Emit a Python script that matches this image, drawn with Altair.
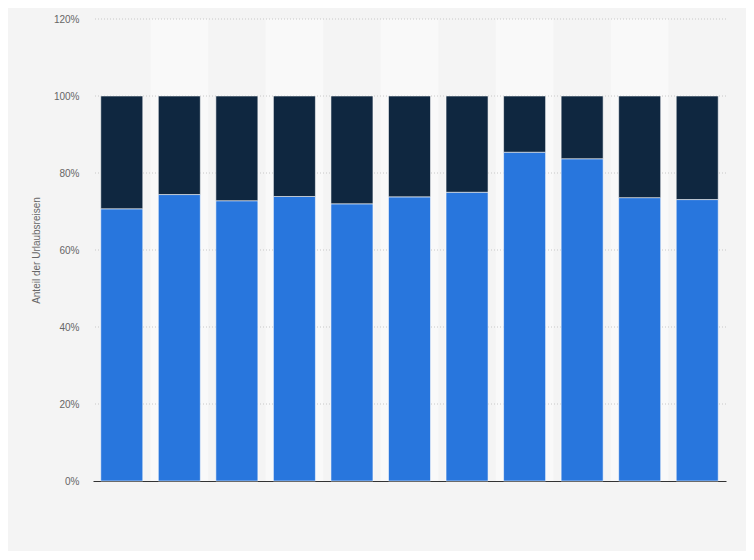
import altair as alt
import pandas as pd

categories = ["2009", "2010", "2011", "2012", "2013", "2014", "2015", "2016", "2017", "2018", "2019"]
share_a = [70.7, 74.4, 72.8, 73.9, 72.0, 73.8, 75.0, 85.4, 83.7, 73.6, 73.1]
series_names = ["Anteil A", "Anteil B"]
y_ticks = [0, 20, 40, 60, 80, 100, 120]

rows = []
for i, (c, a) in enumerate(zip(categories, share_a)):
    rows.append({"cat": c, "series": series_names[0], "value": a, "order": 0})
    rows.append({"cat": c, "series": series_names[1], "value": round(100 - a, 1), "order": 1})
df = pd.DataFrame(rows)

bands = pd.DataFrame([{"i0": i, "i1": i + 1} for i in range(len(categories)) if i % 2 == 1])
grid_df = pd.DataFrame({"v": y_ticks[1:]})

yscale = alt.Scale(domain=[0, 120], nice=False)
yaxis = alt.Axis(values=y_ticks, labelExpr="datum.value + '%'", title="Anteil der Urlaubsreisen",
                 titleFontSize=10, titleFontWeight="normal", titleColor="#666666", titlePadding=12,
                 labelFontSize=10, labelColor="#666666", labelPadding=14, ticks=False, domain=False,
                 grid=False, labelFont="Liberation Sans", titleFont="Liberation Sans")

band_layer = alt.Chart(bands).mark_rect(color="#f9f9f9").encode(
    x=alt.X("i0:Q", scale=alt.Scale(domain=[0, len(categories)], nice=False, zero=False), axis=None),
    x2="i1:Q",
    y=alt.value(0),
    y2=alt.value(462),
)

grid_layer = alt.Chart(grid_df).mark_rule(color="#c8c8c8", strokeDash=[1, 2], strokeWidth=1).encode(
    y=alt.Y("v:Q", scale=yscale, axis=yaxis),
)

bars = alt.Chart(df).mark_bar(stroke="#ffffff", strokeOpacity=0.55, strokeWidth=1).encode(
    x=alt.X("cat:N", sort=categories, scale=alt.Scale(paddingInner=0.27, paddingOuter=0.135),
            axis=alt.Axis(labels=False, ticks=False, title=None, domainColor="#333333", domainWidth=1.2, grid=False)),
    y=alt.Y("value:Q", stack="zero", scale=yscale, axis=yaxis),
    color=alt.Color("series:N", scale=alt.Scale(domain=series_names, range=["#2876dd", "#0f2740"]), legend=None),
    order=alt.Order("order:Q", sort="ascending"),
)

chart = alt.layer(band_layer, grid_layer, bars).resolve_scale(x="independent").properties(
    width=633, height=462,
    autosize=alt.AutoSizeParams(type="none"),
    padding={"left": 85, "top": 11, "right": 20, "bottom": 70},
    background="#f4f4f4",
).configure_view(stroke=None, fill="#f4f4f4")

chart.save("out.html", embed_options={"renderer": "svg", "actions": False})
